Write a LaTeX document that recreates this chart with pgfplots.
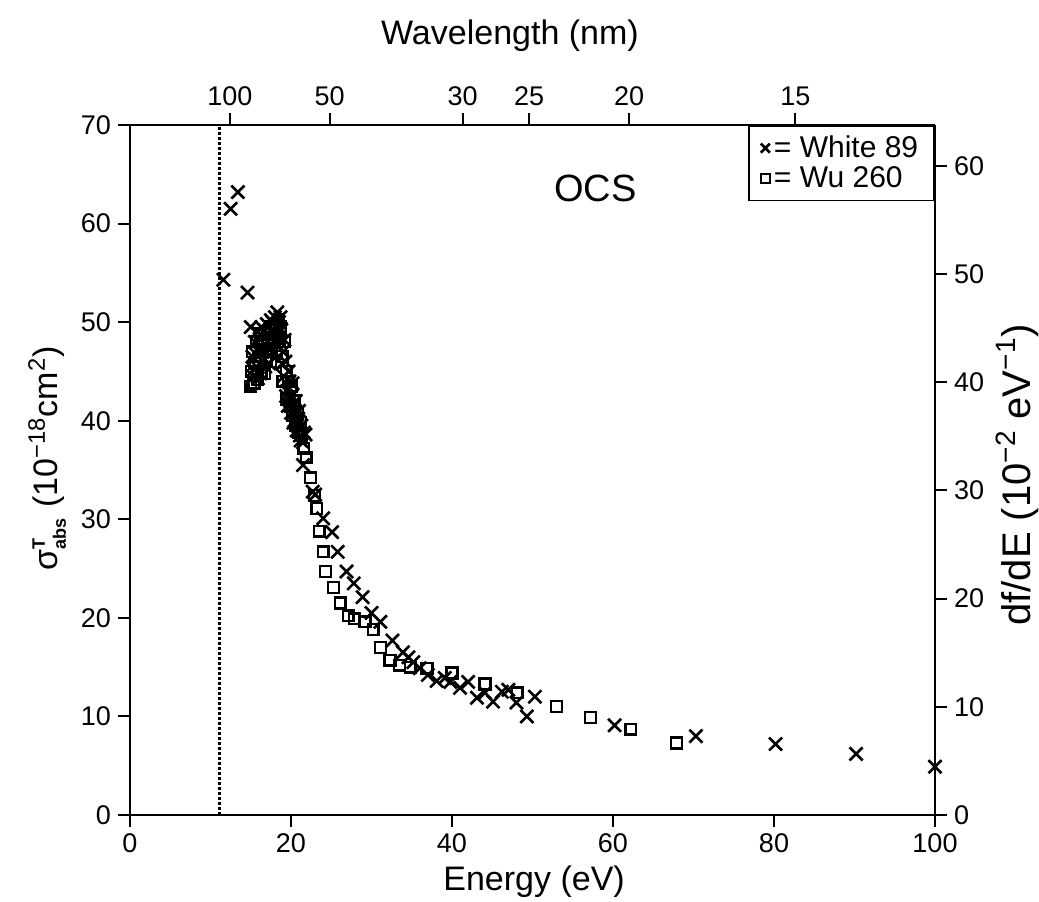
\documentclass[border=0pt]{standalone}
\usepackage{pgfplots}
\pgfplotsset{compat=1.18}
\usepackage{fontspec}
\setmainfont{Liberation Sans}
\begin{document}
\begin{tikzpicture}
\pgfplotsset{
  common/.style={scale only axis, width=402.5pt, height=345pt, xmin=0, xmax=100,
    tick align=outside, major tick length=6pt,
    /pgf/number format/assume math mode=true,
    tick label style={font=\fontsize{13.5}{15}\selectfont},
    label style={font=\fontsize{17}{20}\selectfont},
    axis line style={line width=1pt},
    every tick/.style={line width=1pt, black},
  },
}
\begin{axis}[common, axis x line*=bottom, axis y line*=left,
  ymin=0, ymax=70, xtick={0,20,...,100}, ytick={0,10,...,70},
  xlabel={Energy (eV)},
  xlabel style={at={(axis description cs:0.502,-0.097)}, anchor=center},
  ylabel={$\mbox{σ}^{\mbox{\fontsize{9}{10}\selectfont\bfseries T}}_{\mbox{\fontsize{9}{10}\selectfont\bfseries abs}}$ (10\textsuperscript{−18}cm\textsuperscript{2})},
  ylabel style={at={(axis description cs:-0.103,0.517)}, anchor=center, rotate=0},
  legend style={at={(1,1)}, anchor=north east, draw=black, line width=0.8pt,
    font=\fontsize{15}{17}\selectfont, inner xsep=6pt, inner ysep=3pt, row sep=-1pt},
  legend cell align=left,
]
\addplot[only marks, mark=x, mark size=4.6pt, line width=1.3pt, legend image post style={mark size=3.2pt}] table {
15.0 49.5
15.2 46.5
15.3 44.5
15.5 48.0
15.7 45.5
15.8 49.0
16.0 47.0
16.2 44.8
16.3 49.5
16.5 46.0
16.6 48.5
16.8 45.5
17.0 49.8
17.1 47.5
17.3 45.8
17.5 50.2
17.6 48.5
17.8 49.0
18.0 50.5
18.1 47.8
18.3 51.0
18.5 50.0
18.6 48.5
18.8 49.2
19.0 47.0
19.1 44.5
19.3 46.0
19.5 43.0
19.6 41.5
19.8 44.0
20.0 40.8
20.1 42.5
20.3 39.8
20.5 41.0
20.7 39.0
20.9 40.2
21.1 38.5
21.3 39.5
21.5 37.8
21.8 38.6
15.4 45.2
15.6 46.8
15.9 44.3
16.1 48.3
16.4 47.3
16.7 49.2
16.9 47.0
17.2 48.8
17.4 47.2
17.7 50.0
17.9 47.0
18.2 49.5
18.4 48.2
18.7 50.5
18.9 45.8
19.2 48.2
19.4 42.5
19.7 45.0
19.9 42.0
20.2 43.8
20.4 40.0
20.6 42.0
20.8 39.5
21.0 41.0
21.2 38.0
21.6 38.8
11.6 54.3
12.5 61.5
13.4 63.2
14.6 53.0
21.5 35.5
22.7 32.8
23.0 32.5
24.0 30.1
25.1 28.7
25.8 26.7
26.9 24.7
27.8 23.5
28.9 22.1
30.0 20.5
31.1 19.6
32.6 17.7
33.9 16.5
34.6 16.0
35.2 15.5
36.0 14.9
37.0 14.2
38.1 13.6
39.1 13.9
39.8 13.5
41.0 12.9
42.0 13.5
43.1 11.9
44.1 12.4
45.1 11.5
46.2 12.5
47.0 12.7
48.0 11.4
49.3 10.0
50.3 12.0
60.2 9.1
70.3 8.0
80.2 7.2
90.2 6.2
100.0 4.9
};
\addlegendentry{= White 89}
\addplot[only marks, mark=square, mark size=2.7pt, line width=1.2pt, legend image post style={mark size=2.3pt}] table {
15.0 43.5
15.1 45.0
15.2 47.0
15.4 43.8
15.5 45.8
15.7 48.0
15.8 44.2
16.0 46.5
16.2 48.8
16.3 45.0
16.5 47.2
16.7 44.8
16.9 46.2
17.1 48.8
17.3 47.0
17.5 46.0
17.6 49.5
17.9 48.0
18.1 49.8
18.2 46.8
18.4 50.3
18.5 48.0
18.7 49.5
18.9 46.5
19.0 44.0
19.2 48.0
19.4 45.0
19.5 42.2
19.7 44.0
19.9 41.5
20.0 43.5
20.2 40.5
20.4 42.0
20.6 39.5
20.8 40.8
21.0 38.8
21.2 39.8
21.3 38.5
21.6 37.2
21.9 36.3
22.4 34.2
22.9 32.4
23.2 31.1
23.5 28.8
24.0 26.7
24.3 24.7
25.3 23.1
26.1 21.5
27.1 20.2
27.9 19.9
29.2 19.6
30.2 18.8
31.1 17.0
32.3 15.7
33.5 15.2
34.8 15.0
36.9 14.9
40.0 14.4
44.1 13.3
48.1 12.4
53.0 11.0
57.2 9.9
62.2 8.7
67.9 7.3
};
\addlegendentry{= Wu 260}
\addplot[densely dotted, line width=1.5pt, forget plot] coordinates {(11.18,0) (11.18,70)};
\node[font=\fontsize{19}{22}\selectfont] at (axis cs:57.8,63.6) {OCS};
\end{axis}
\begin{axis}[common, axis x line*=top, axis y line*=right,
  ymin=0, ymax=63.781, ytick={0,10,...,60},
  xtick={12.40,24.80,41.33,49.59,61.99,82.66},
  xticklabels={100,50,30,25,20,15},
  xlabel={Wavelength (nm)},
  xlabel style={at={(axis description cs:0.472,1.130)}, anchor=center},
  ylabel={df/dE (10\textsuperscript{−2} eV\textsuperscript{−1})},
  ylabel style={at={(axis description cs:1.102,0.493)}, anchor=center, rotate=0, font=\fontsize{20}{23}\selectfont},
]
\end{axis}
\pgfresetboundingbox
\path (current axis.south west) ++(-65pt,-43pt) rectangle ++(519.5pt,450.5pt);
\end{tikzpicture}
\end{document}
